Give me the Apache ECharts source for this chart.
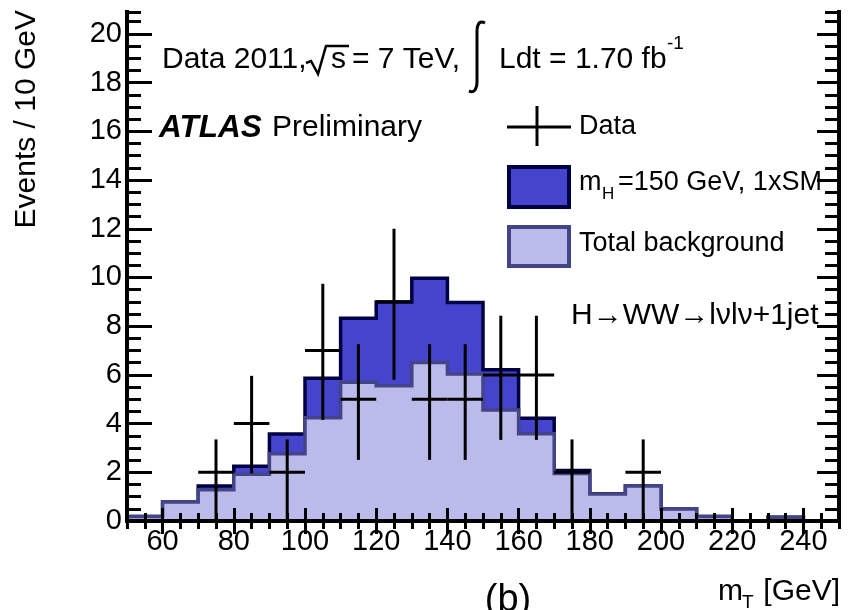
<!DOCTYPE html>
<html><head><meta charset="utf-8">
<script src="https://cdn.jsdelivr.net/npm/echarts@6/dist/echarts.min.js"></script>
<style>html,body{margin:0;padding:0;background:#fff}#c{width:850px;height:610px}</style>
</head><body><div id="c"></div>
<script>
// ---- data ----
const binEdges = [50,60,70,80,90,100,110,120,130,140,150,160,170,180,190,200,210,220,230,240,250];
const bgValues    = [0.18,0.78,1.28,1.92,2.76,4.24,5.70,5.55,6.51,6.04,4.56,3.58,1.95,1.11,1.44,0.49,0.18,0.0,0.15,0.0];
const totalValues = [0.18,0.78,1.44,2.25,3.57,5.86,8.33,8.99,9.97,8.97,6.21,4.22,2.07,1.12,1.44,0.49,0.18,0.0,0.15,0.0];
const dataCenters = [75,85,95,105,115,125,135,145,155,165,175,195];
const dataValues  = [2,4,2,7,5,9,5,5,6,6,2,2];
const dataLow     = [0,1.96,0,4.15,2.51,5.8,2.51,2.51,3.33,3.33,0,0];
const dataHigh    = [3.35,5.96,3.35,9.74,7.26,12.0,7.26,7.26,8.43,8.43,3.35,3.35];
const xTickLabels = [60,80,100,120,140,160,180,200,220,240];
const yTickLabels = [0,2,4,6,8,10,12,14,16,18,20];

const FONT = '"Liberation Sans", Arial, Helvetica, sans-serif';
const BLACK = '#000';

function stepPoints(vals){
  const pts = vals.map((v,i)=>[binEdges[i], v]);
  pts.push([binEdges[vals.length], vals[vals.length-1]]);
  return pts;
}
const binWidth = binEdges[1]-binEdges[0];

function xAx(pos, major){
  const a = {
    type:'value', min:50, max:250, position:pos, z:10,
    axisLine:{show: major, lineStyle:{color:BLACK, width:4, cap:'square'}},
    axisTick: major
      ? {show:true, inside:true, length:13, customValues:xTickLabels, lineStyle:{color:BLACK,width:3}}
      : {show:true, inside:true, length:8, lineStyle:{color:BLACK,width:3}},
    axisLabel: (major && pos==='bottom')
      ? {show:true, customValues:xTickLabels, margin:6, fontSize:29, fontFamily:FONT, color:BLACK}
      : {show:false},
    splitLine:{show:false}
  };
  if (!major) a.interval = 5;
  return a;
}
function yAx(pos, major){
  const a = {
    type:'value', min:0, max:20.9, position:pos, z:10,
    axisLine:{show: major, lineStyle:{color:BLACK, width:4, cap:'square'}},
    axisTick: major
      ? {show:true, inside:true, length: pos==='left'?25:22, customValues:yTickLabels, lineStyle:{color:BLACK,width:3}}
      : {show:true, inside:true, length:14, lineStyle:{color:BLACK,width:3}},
    axisLabel: (major && pos==='left')
      ? {show:true, customValues:yTickLabels, margin:5, fontSize:29, fontFamily:FONT, color:BLACK}
      : {show:false},
    splitLine:{show:false}
  };
  if (!major) a.interval = 0.5;
  return a;
}

const chart = echarts.init(document.getElementById('c'), null, {renderer:'canvas'});

function txt(x, y, text, size, opts){
  opts = opts || {};
  return {
    type:'text', x:x, y:y, z:20, rotation: opts.rotation || 0,
    style:{
      text:text, fill: opts.fill || BLACK,
      font: (opts.style||'normal') + ' ' + (opts.weight||'normal') + ' ' + size + 'px ' + FONT,
      align: opts.align || 'left', textAlign: opts.align || 'left',
      verticalAlign: opts.va || 'middle', textVerticalAlign: opts.va || 'middle'
    }
  };
}
function seg(x1,y1,x2,y2,w,color){
  return {type:'line', z:20, shape:{x1:x1,y1:y1,x2:x2,y2:y2}, style:{stroke:color||BLACK, lineWidth:w||3}};
}
function curve(x1,y1,cx,cy,x2,y2,w){
  return {type:'bezierCurve', z:20, shape:{x1:x1,y1:y1,cpx1:cx,cpy1:cy,x2:x2,y2:y2}, style:{stroke:BLACK, lineWidth:w||3, fill:null}};
}

const option = {
  animation:false,
  backgroundColor:'#fff',
  grid:{left:127, right:11, top:12, bottom:89, outerBoundsMode:'none', containLabel:false},
  xAxis:[xAx('bottom',true), xAx('bottom',false), xAx('top',true), xAx('top',false)],
  yAxis:[yAx('left',true), yAx('left',false), yAx('right',true), yAx('right',false)],
  series:[
    {
      type:'line', name:'total', xAxisIndex:0, yAxisIndex:0, z:2,
      data: stepPoints(totalValues), step:'end', symbol:'none', showSymbol:false,
      lineStyle:{color:'#000044', width:3.5, join:'miter'},
      areaStyle:{color:'#4444cc', opacity:1}
    },
    {
      type:'line', name:'bg', xAxisIndex:0, yAxisIndex:0, z:3,
      data: stepPoints(bgValues), step:'end', symbol:'none', showSymbol:false,
      lineStyle:{color:'#444488', width:3.5, join:'miter'},
      areaStyle:{color:'#bbbbeb', opacity:1}
    },
    {
      type:'custom', name:'data', xAxisIndex:0, yAxisIndex:0, z:4,
      data: dataCenters.map((x,i)=>[x, dataValues[i], dataLow[i], dataHigh[i]]),
      renderItem:function(params, api){
        const x = api.value(0), y = api.value(1);
        const pT = api.coord([x, api.value(3)]);
        const pB = api.coord([x, api.value(2)]);
        const pL = api.coord([x - binWidth/2, y]);
        const pR = api.coord([x + binWidth/2, y]);
        return {type:'group', children:[
          {type:'line', shape:{x1:pT[0],y1:pT[1],x2:pB[0],y2:pB[1]}, style:{stroke:BLACK,lineWidth:3}},
          {type:'line', shape:{x1:pL[0],y1:pL[1],x2:pR[0],y2:pR[1]}, style:{stroke:BLACK,lineWidth:3}}
        ]};
      }
    }
  ],
  graphic:[
    txt(27, 10, 'Events / 10 GeV', 30, {align:'right', rotation:Math.PI/2}),
    txt(162, 60, 'Data 2011,', 30),
    {type:'polyline', z:20, shape:{points:[[306,63],[311,61],[318,74],[326,46],[349,46]]}, style:{stroke:BLACK, lineWidth:2.5, fill:null}},
    txt(331, 60, 's', 30),
    txt(352, 60, '= 7 TeV,', 30),
    curve(485,23,478,19,477,30,3),
    seg(477,30,477,83,3),
    curve(477,83,476,94,469,91,3),
    txt(499, 60, 'Ldt = 1.70 fb', 30),
    txt(667, 44, '-1', 19),
    txt(159, 128, 'ATLAS', 31.5, {style:'italic', weight:'bold'}),
    txt(272, 128, 'Preliminary', 30),
    seg(507,127,571,127,3),
    seg(537,106,537,146,3),
    txt(579, 127, 'Data', 27),
    {type:'rect', z:20, shape:{x:509,y:167,width:60,height:40}, style:{fill:'#4444cc', stroke:'#000044', lineWidth:4}},
    txt(579, 183, 'm', 27),
    txt(602, 194, 'H', 17),
    txt(618, 183, '=150 GeV, 1xSM', 27),
    {type:'rect', z:20, shape:{x:509,y:227,width:60,height:39}, style:{fill:'#bbbbeb', stroke:'#444488', lineWidth:4}},
    txt(579, 244, 'Total background', 27),
    txt(571, 316, 'H\u2192WW\u2192l\u03bdl\u03bd+1jet', 30),
    txt(718, 592, 'm', 30),
    txt(742, 603, 'T', 19),
    txt(840, 592, '[GeV]', 30, {align:'right'}),
    txt(508, 601, '(b)', 38, {align:'center'})
  ]
};
chart.setOption(option);
</script>
</body></html>
